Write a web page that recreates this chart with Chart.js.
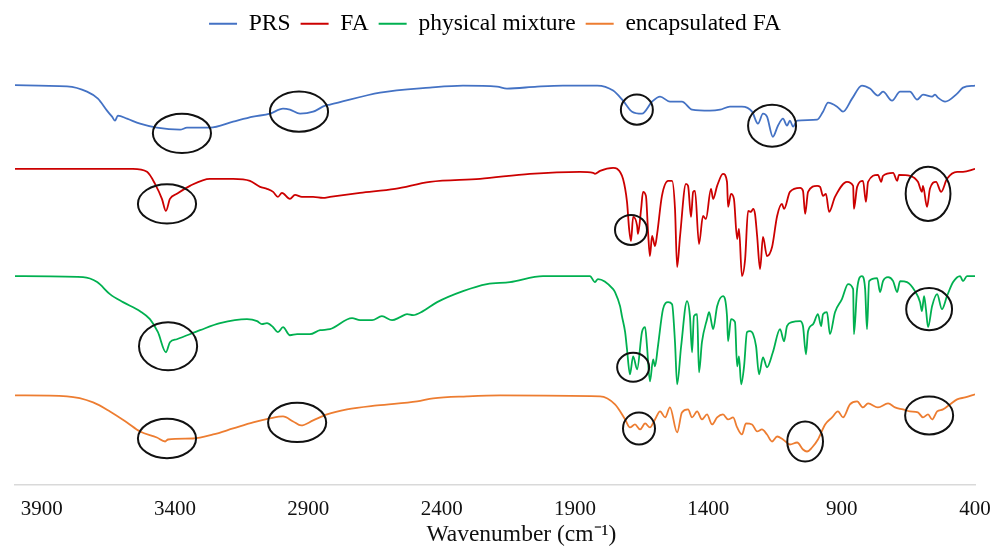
<!DOCTYPE html>
<html>
<head>
<meta charset="utf-8">
<script src="https://cdn.jsdelivr.net/npm/chart.js@4.4.0/dist/chart.umd.min.js"></script>
<style>
  html, body { margin: 0; background: #fff; }
  #wrap { width: 991px; height: 547px; }
</style>
</head>
<body>
<div id="wrap"><canvas id="ftir"></canvas></div>
<script>
// spectra: [wavenumber cm-1, offset transmittance]
const prs = [[4000,99.6],[3805,99.3],[3730,98.0],[3689,96.25],[3655,93.25],[3636,91.75],[3625,90.75],[3614,92.0],[3580,91.25],[3531,90.0],[3468,89.0],[3381,88.5],[3355,89.0],[3269,89.0],[3182,90.5],[3107,91.75],[3044,92.5],[2995,93.75],[2969,93.5],[2931,92.5],[2882,93.0],[2837,94.5],[2819,94.75],[2631,97.75],[2444,99.0],[2320,99.5],[2192,99.25],[2155,98.75],[2042,99.25],[1945,99.5],[1817,99.5],[1757,98.25],[1720,95.75],[1686,93.0],[1649,92.5],[1611,95.5],[1581,96.75],[1544,95.5],[1499,95.5],[1461,93.5],[1394,93.25],[1356,93.5],[1319,94.25],[1274,94.25],[1236,93.0],[1214,90.0],[1195,92.5],[1180,91.75],[1158,86.75],[1139,89.5],[1120,91.25],[1105,89.5],[1094,90.75],[1082,89.25],[1067,90.75],[992,91.0],[970,93.0],[951,95.25],[917,94.25],[895,93.0],[861,96.25],[824,99.5],[794,98.75],[764,97.0],[745,98.0],[711,95.75],[681,98.0],[644,98.0],[617,96.0],[595,97.25],[561,96.75],[550,97.25],[539,96.5],[512,95.5],[467,97.5],[445,99.0],[400,99.5]];

const fa = [[4000,78.75],[3558,78.75],[3505,78.0],[3475,75.0],[3449,71.25],[3434,68.25],[3419,71.25],[3393,72.5],[3344,74.5],[3269,76.25],[3182,76.25],[3119,75.75],[3081,74.25],[3055,73.75],[3032,73.0],[3014,71.75],[2999,72.75],[2969,71.25],[2950,72.25],[2924,71.75],[2882,71.75],[2845,71.5],[2819,71.75],[2706,72.75],[2575,73.75],[2444,75.5],[2256,76.25],[2069,77.5],[1881,78.0],[1832,77.75],[1825,77.5],[1806,78.25],[1757,79.0],[1742,78.75],[1720,76.25],[1705,70.5],[1697,63.75],[1690,60.75],[1682,66.75],[1667,64.5],[1664,62.5],[1652,68.75],[1645,73.0],[1634,72.0],[1626,63.0],[1619,57.0],[1611,62.0],[1600,59.5],[1592,62.5],[1574,72.0],[1551,75.75],[1536,75.75],[1525,68.75],[1517,54.25],[1506,62.0],[1484,75.0],[1476,74.5],[1465,66.75],[1457,73.0],[1450,73.25],[1435,60.0],[1420,67.0],[1409,66.25],[1390,73.75],[1382,71.25],[1367,74.5],[1345,77.5],[1330,75.5],[1326,69.25],[1315,72.5],[1304,71.25],[1292,61.25],[1285,63.75],[1274,52.0],[1262,56.25],[1251,68.25],[1240,68.0],[1232,68.75],[1225,67.5],[1217,62.0],[1206,53.75],[1195,61.75],[1180,57.0],[1161,59.25],[1142,67.0],[1124,70.0],[1116,68.75],[1094,73.0],[1056,74.0],[1045,73.25],[1037,67.5],[1026,73.0],[992,74.5],[981,74.25],[970,72.0],[959,72.5],[947,68.0],[925,71.75],[880,75.5],[857,74.5],[854,68.75],[842,74.25],[820,75.75],[809,70.5],[801,75.5],[764,77.25],[752,75.5],[745,77.0],[707,77.75],[692,75.75],[685,77.25],[644,77.0],[614,75.5],[599,73.0],[595,74.5],[580,69.25],[569,73.75],[546,75.5],[527,73.0],[505,76.25],[467,78.0],[445,78.0],[400,78.75]];

const mixture = [[4000,52.0],[3745,51.75],[3692,50.5],[3644,47.5],[3595,45.5],[3531,43.25],[3494,41.25],[3464,38.0],[3434,33.0],[3419,35.5],[3393,36.25],[3306,38.5],[3231,40.25],[3130,41.25],[3092,40.75],[3074,40.0],[3055,40.25],[3032,39.25],[3014,38.0],[2995,39.25],[2969,37.25],[2942,37.5],[2894,37.5],[2856,38.5],[2819,38.75],[2736,41.5],[2706,41.0],[2661,41.0],[2624,42.0],[2586,41.0],[2556,41.75],[2530,42.5],[2507,42.25],[2470,43.25],[2417,45.5],[2320,48.25],[2230,50.0],[2144,50.5],[2020,52.0],[1945,52.0],[1844,52.0],[1825,50.5],[1814,51.25],[1757,48.75],[1750,48.0],[1731,44.5],[1724,42.0],[1712,38.0],[1705,33.75],[1694,27.5],[1682,32.0],[1667,28.75],[1649,38.0],[1637,39.25],[1630,34.5],[1619,25.75],[1607,31.25],[1600,29.5],[1589,34.5],[1570,43.75],[1551,45.5],[1536,45.0],[1525,35.5],[1517,25.0],[1502,34.5],[1480,45.75],[1469,42.0],[1461,33.0],[1454,42.0],[1442,42.5],[1435,28.0],[1424,35.5],[1405,41.25],[1397,43.0],[1382,38.75],[1367,44.5],[1345,47.0],[1330,42.0],[1326,35.75],[1315,41.25],[1300,40.5],[1292,29.5],[1285,32.0],[1277,25.0],[1266,29.5],[1255,38.0],[1244,38.25],[1232,37.5],[1221,34.5],[1210,27.5],[1195,31.75],[1180,29.25],[1158,33.0],[1131,38.75],[1116,35.75],[1105,39.5],[1086,40.5],[1056,40.75],[1045,39.5],[1034,32.5],[1026,38.25],[1007,40.0],[989,42.5],[977,39.5],[970,42.5],[955,43.0],[944,37.5],[925,43.0],[899,46.25],[876,50.0],[857,48.75],[854,37.5],[842,48.75],[824,52.0],[812,48.75],[805,38.75],[797,50.75],[767,51.5],[756,48.0],[745,50.75],[726,51.75],[707,50.75],[692,48.0],[681,50.75],[655,50.5],[625,48.25],[606,45.5],[599,43.25],[591,47.0],[584,43.75],[576,39.25],[561,44.5],[542,47.5],[524,43.75],[505,47.0],[482,50.5],[456,52.0],[445,50.75],[430,52.0],[400,52.0]];

const encapsulated = [[4000,22.25],[3805,22.0],[3707,20.5],[3644,18.25],[3580,15.5],[3531,13.25],[3468,11.75],[3437,10.75],[3426,11.25],[3332,11.5],[3257,12.5],[3182,14.0],[3107,15.5],[3044,16.5],[2995,17.0],[2957,15.75],[2927,14.75],[2882,16.0],[2830,17.5],[2755,18.75],[2642,19.75],[2492,20.75],[2432,21.5],[2305,22.0],[2181,22.25],[1806,22.0],[1750,20.0],[1712,16.25],[1694,14.25],[1675,15.0],[1656,13.75],[1637,15.25],[1619,14.25],[1600,16.25],[1581,18.25],[1562,16.75],[1544,19.25],[1517,13.0],[1499,18.0],[1476,18.75],[1461,16.75],[1442,18.25],[1424,16.25],[1405,17.5],[1386,15.0],[1367,16.75],[1345,17.5],[1326,16.25],[1307,16.75],[1292,14.25],[1274,12.5],[1259,15.25],[1236,15.0],[1217,13.25],[1199,13.75],[1180,12.5],[1161,10.75],[1142,12.0],[1120,11.25],[1094,10.0],[1067,10.5],[1045,8.75],[1030,8.25],[1011,9.25],[989,11.25],[962,15.0],[936,16.75],[914,18.25],[895,16.75],[869,20.0],[842,20.75],[820,19.25],[801,20.25],[764,19.25],[726,20.25],[700,19.25],[670,18.75],[644,18.25],[614,18.0],[595,16.75],[576,17.5],[561,16.25],[542,18.25],[520,18.75],[494,20.0],[467,21.25],[437,21.75],[400,22.5]];

const seriesNames = ['PRS', 'FA', 'physical mixture', 'encapsulated FA'];
const tickValues = [3900, 3400, 2900, 2400, 1900, 1400, 900, 400];

// circled bands: [wavenumber, level, half width (cm-1), half height]
const rings = [
  [3374, 87.6, 109, 4.9], [2935, 93.0, 109, 5.0], [1668, 93.5, 60, 3.75], [1161, 89.5, 90, 5.25],
  [3430, 70.0, 109, 4.9], [1690, 63.5, 60, 3.75], [576, 72.5, 84, 6.75],
  [3426, 34.5, 109, 6.0], [1682, 29.25, 60, 3.6], [572, 43.75, 86, 5.25],
  [3430, 11.5, 109, 4.9], [2942, 15.5, 109, 4.9], [1660, 14.0, 60, 4.0], [1037, 10.75, 67, 5.0], [572, 17.25, 90, 4.75]
];

const colors = ['#4472C4', '#CC0000', '#00B050', '#ED7D31'];
const serif = 'Liberation Serif';

const ringPlugin = {
  id: 'rings',
  afterDatasetsDraw(chart) {
    const {ctx, scales: {x, y}} = chart;
    ctx.save();
    ctx.strokeStyle = '#111';
    ctx.lineWidth = 2;
    rings.forEach(([w, t, dw, dt]) => {
      const cx = x.getPixelForValue(w), cy = y.getPixelForValue(t);
      const rx = Math.abs(x.getPixelForValue(w + dw) - cx);
      const ry = Math.abs(y.getPixelForValue(t + dt) - cy);
      ctx.beginPath();
      ctx.ellipse(cx, cy, rx, ry, 0, 0, Math.PI * 2);
      ctx.stroke();
    });
    ctx.restore();
  }
};

const toPoints = arr => arr.map(([x, y]) => ({x, y}));

new Chart(document.getElementById('ftir'), {
  type: 'line',
  data: {
    datasets: [prs, fa, mixture, encapsulated].map((s, i) => ({
      label: seriesNames[i],
      data: toPoints(s),
      borderColor: colors[i],
      backgroundColor: colors[i],
      borderWidth: 1.8,
      pointRadius: 0,
      cubicInterpolationMode: 'monotone'
    }))
  },
  options: {
    responsive: true,
    maintainAspectRatio: false,
    animation: false,
    layout: {padding: {left: 15, right: 16, top: 2, bottom: 0}},
    plugins: {
      tooltip: {enabled: false},
      legend: {
        position: 'top',
        labels: {
          font: {family: serif, size: 23.5},
          color: '#000',
          boxWidth: 28,
          boxHeight: 2,
          padding: 10,
          generateLabels: chart => Chart.defaults.plugins.legend.labels.generateLabels(chart)
            .map(l => Object.assign(l, {lineWidth: 0, fillStyle: l.strokeStyle}))
        }
      }
    },
    scales: {
      x: {
        type: 'linear',
        reverse: true,
        min: 400,
        max: 4000,
        afterBuildTicks: s => { s.ticks = tickValues.map(v => ({value: v})); },
        // the end labels fit inside the page margin, so keep the plot full width
        afterFit: s => { s.paddingLeft = 0; s.paddingRight = 0; },
        ticks: {callback: v => String(v), font: {family: serif, size: 21}, color: '#111', padding: 12, maxRotation: 0, autoSkip: false},
        grid: {display: false, drawTicks: false},
        border: {display: true, color: '#d9d9d9', width: 1.5},
        title: {
          display: true,
          text: '         Wavenumber (cm⁻¹)',
          font: {family: serif, size: 23.5},
          color: '#111',
          padding: {top: -13, bottom: -2}
        }
      },
      y: {display: false, min: 0, max: 109.5}
    }
  },
  plugins: [ringPlugin]
});
</script>
</body>
</html>
